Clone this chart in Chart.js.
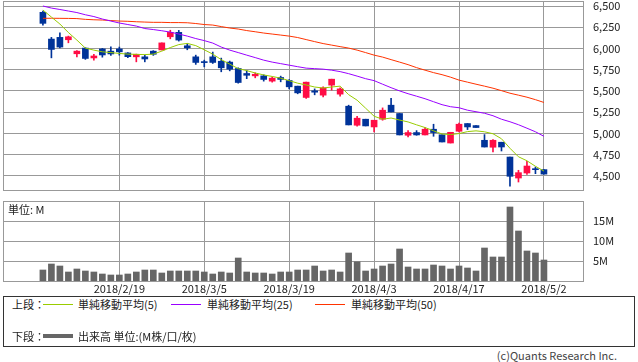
<!DOCTYPE html>
<html>
<head>
<meta charset="utf-8">
<script src="https://cdn.jsdelivr.net/npm/chart.js@4.4.1/dist/chart.umd.min.js"></script>
<style>
body { margin: 0; background: #fff; font-family: "Noto Sans CJK JP", "Noto Sans", sans-serif; color: #222; }
#wrap { position: relative; width: 638px; height: 362px; overflow: hidden; }
canvas { position: absolute; left: 0; }
#cPrice { top: 0; }
#cVol { top: 195px; }
.lbl { position: absolute; font-size: 11px; line-height: 13px; white-space: nowrap; }
.sw { position: absolute; width: 30px; height: 1px; }
#legendBox { position: absolute; left: 3px; top: 296px; width: 630px; height: 49px; border: 1px solid #333; }
</style>
</head>
<body>
<div id="wrap">
	<canvas id="cPrice" width="638" height="191"></canvas>
	<canvas id="cVol" width="638" height="100"></canvas>
	<div class="lbl" style="left:8px; top:203px;">単位: M</div>
	<!-- Begin legend -->
	<div id="legendBox"></div>
	<div class="lbl" style="left:12px; top:298px;">上段：</div>
	<div class="sw" style="left:43px; top:304px; background:#99cc00;"></div>
	<div class="lbl" style="left:78px; top:298px;">単純移動平均(5)</div>
	<div class="sw" style="left:171px; top:304px; background:#9900ff;"></div>
	<div class="lbl" style="left:207px; top:298px;">単純移動平均(25)</div>
	<div class="sw" style="left:315px; top:304px; background:#ff3300;"></div>
	<div class="lbl" style="left:351px; top:298px;">単純移動平均(50)</div>
	<div class="lbl" style="left:12px; top:330px;">下段：</div>
	<div class="sw" style="left:43px; top:334px; height:4px; background:#666;"></div>
	<div class="lbl" style="left:78px; top:330px;">出来高 単位:(M株/口/枚)</div>
	<!-- End legend -->
	<div class="lbl" style="right:21px; top:349px; color:#444;">(c)Quants Research Inc.</div>
</div>
<script>
// trading days shown on the chart
var dates = [
	'2018/2/5', '2018/2/6', '2018/2/7', '2018/2/8', '2018/2/9', '2018/2/13', '2018/2/14', '2018/2/15', '2018/2/16',
	'2018/2/19', '2018/2/20', '2018/2/21', '2018/2/22', '2018/2/23', '2018/2/26', '2018/2/27', '2018/2/28', '2018/3/1', '2018/3/2',
	'2018/3/5', '2018/3/6', '2018/3/7', '2018/3/8', '2018/3/9', '2018/3/12', '2018/3/13', '2018/3/14', '2018/3/15', '2018/3/16',
	'2018/3/19', '2018/3/20', '2018/3/22', '2018/3/23', '2018/3/26', '2018/3/27', '2018/3/28', '2018/3/29', '2018/3/30', '2018/4/2',
	'2018/4/3', '2018/4/4', '2018/4/5', '2018/4/6', '2018/4/9', '2018/4/10', '2018/4/11', '2018/4/12', '2018/4/13', '2018/4/16',
	'2018/4/17', '2018/4/18', '2018/4/19', '2018/4/20', '2018/4/23', '2018/4/24', '2018/4/25', '2018/4/26', '2018/4/27', '2018/5/1',
	'2018/5/2'
];
var opens = [
	6426, 6111, 6131, 6103, 5938, 6005, 5889, 5995, 5969, 5995,
	5948, 5902, 5902, 5969, 5983, 6138, 6190, 6032, 5902, 5839,
	5902, 5850, 5840, 5765, 5706, 5678, 5678, 5616, 5659, 5624,
	5557, 5424, 5502, 5451, 5569, 5463, 5321, 5097, 5168, 5077,
	5168, 5333, 5235, 4979, 5011, 4983, 5050, 4985, 4888, 5026,
	5117, 5093, 4920, 4838, 4897, 4723, 4476, 4535, 4586, 4575
];
var highs = [
	6440, 6131, 6184, 6146, 5975, 6009, 5931, 6001, 6019, 6017,
	5952, 5934, 5922, 5975, 6066, 6215, 6213, 6056, 5922, 5863,
	5958, 5887, 5852, 5773, 5739, 5714, 5690, 5663, 5675, 5635,
	5557, 5604, 5525, 5549, 5639, 5537, 5333, 5203, 5168, 5156,
	5301, 5415, 5235, 5034, 5034, 5070, 5109, 4985, 5014, 5122,
	5117, 5093, 4987, 4928, 4897, 4723, 4567, 4673, 4605, 4575
];
var lows = [
	6275, 5890, 6008, 6067, 5902, 5872, 5863, 5898, 5919, 5922,
	5891, 5843, 5843, 5919, 5983, 6114, 6087, 5985, 5813, 5784,
	5824, 5726, 5737, 5592, 5645, 5655, 5616, 5604, 5608, 5525,
	5467, 5412, 5455, 5431, 5510, 5439, 5101, 5085, 5089, 5018,
	5156, 5254, 4983, 4959, 4979, 4983, 4967, 4900, 4888, 5018,
	5046, 5070, 4841, 4782, 4794, 4380, 4429, 4519, 4527, 4522
];
var closes = [
	6296, 5989, 6017, 6138, 5969, 5883, 5912, 5924, 5936, 5961,
	5904, 5932, 5877, 5932, 6066, 6190, 6099, 6008, 5836, 5834,
	5836, 5773, 5757, 5600, 5685, 5697, 5636, 5651, 5636, 5549,
	5478, 5604, 5486, 5537, 5639, 5525, 5101, 5180, 5089, 5156,
	5274, 5254, 4983, 5011, 4983, 5050, 5011, 4900, 5014, 5109,
	5077, 5070, 4841, 4920, 4841, 4496, 4539, 4617, 4574, 4522
];
var ma5 = [
	6453, 6370, 6288, 6188, 6099, 6005, 5981, 5961, 5952, 5942,
	5934, 5931, 5928, 5934, 5969, 6011, 6046, 6060, 6034, 5985,
	5934, 5869, 5816, 5763, 5740, 5712, 5689, 5671, 5651, 5622,
	5592, 5571, 5547, 5535, 5547, 5557, 5457, 5392, 5298, 5203,
	5168, 5182, 5158, 5136, 5102, 5070, 5032, 4994, 4987, 4999,
	5022, 5031, 5020, 4997, 4938, 4826, 4726, 4679, 4614, 4558
];
var ma25 = [
	6500, 6476, 6459, 6441, 6423, 6397, 6376, 6347, 6323, 6300,
	6282, 6264, 6235, 6223, 6209, 6193, 6170, 6146, 6117, 6093,
	6064, 6017, 5981, 5952, 5922, 5893, 5863, 5840, 5822, 5804,
	5786, 5769, 5763, 5757, 5745, 5728, 5704, 5675, 5645, 5622,
	5580, 5539, 5501, 5468, 5439, 5409, 5374, 5339, 5315, 5303,
	5274, 5256, 5238, 5209, 5168, 5138, 5103, 5062, 5020, 4967
];
var ma50 = [
	6355, 6356, 6355, 6354, 6352, 6343, 6338, 6335, 6329, 6323,
	6320, 6315, 6311, 6308, 6308, 6305, 6305, 6303, 6294, 6282,
	6276, 6258, 6241, 6229, 6211, 6197, 6182, 6170, 6158, 6146,
	6129, 6105, 6081, 6058, 6040, 6022, 6005, 5981, 5952, 5922,
	5899, 5869, 5840, 5810, 5775, 5745, 5716, 5692, 5663, 5628,
	5604, 5580, 5557, 5533, 5504, 5474, 5451, 5427, 5398, 5365
];
// volume in millions
var volumes = [
	2.75, 4.25, 3.75, 2.25, 3.0, 2.5, 2.25, 1.75, 1.5, 1.5,
	1.75, 2.25, 2.75, 2.75, 2.0, 2.5, 2.5, 2.5, 2.5, 2.25,
	1.75, 2.25, 2.0, 5.75, 2.25, 2.0, 2.0, 1.75, 2.25, 2.25,
	2.75, 2.75, 3.75, 2.5, 2.75, 2.25, 7.0, 4.8, 2.5, 3.0,
	3.75, 4.25, 8.0, 3.5, 3.0, 3.0, 4.0, 3.75, 3.0, 3.75,
	3.25, 2.5, 8.25, 6.0, 6.0, 18.5, 12.5, 7.5, 7.0, 5.25
];
var tickLabels = ['2018/2/19', '2018/3/5', '2018/3/19', '2018/4/3', '2018/4/17', '2018/5/2'];
var priceTicks = [4500, 4750, 5000, 5250, 5500, 5750, 6000, 6250, 6500];
var volTicks = [5, 10, 15];

var UP = '#ff0d45', DOWN = '#003399', GRID = '#999999';
var FONT = { family: '"Noto Sans CJK JP", "Noto Sans", sans-serif', size: 11 };

var tickIdx = tickLabels.map(function (t) { return dates.indexOf(t); });
var candleColors = opens.map(function (o, i) { return closes[i] >= o ? UP : DOWN; });

// draws the grey frame round the plot area
var framePlugin = {
	id: 'frame',
	afterDraw: function (chart) {
		var a = chart.chartArea, ctx = chart.ctx;
		ctx.save();
		ctx.strokeStyle = GRID;
		ctx.lineWidth = 1;
		ctx.strokeRect(Math.round(a.left) + 0.5, Math.round(a.top) + 0.5, Math.round(a.right - a.left), Math.round(a.bottom - a.top));
		ctx.restore();
	}
};

function xAxis(showLabels) {
	return {
		type: 'linear', min: -4.7, max: 63.6, offset: false,
		grid: { color: GRID, drawTicks: false, offset: false },
		border: { display: false },
		afterBuildTicks: function (s) { s.ticks = tickIdx.map(function (v) { return { value: v }; }); },
		afterFit: function (s) { s.height = showLabels ? 14 : 0; s.paddingLeft = 0; s.paddingRight = 0; },
		ticks: {
			display: showLabels, autoSkip: false, maxRotation: 0, minRotation: 0, padding: 1,
			color: '#222', font: FONT,
			callback: function (v) { return dates[v]; }
		}
	};
}

function yAxis(min, max, ticks, fmt) {
	return {
		position: 'right', min: min, max: max,
		grid: { color: GRID, drawTicks: false },
		border: { display: false },
		afterBuildTicks: function (s) { s.ticks = ticks.map(function (v) { return { value: v }; }); },
		afterFit: function (s) { s.width = 55; s.paddingTop = 0; s.paddingBottom = 0; },
		ticks: { padding: 10, color: '#222', font: FONT, callback: fmt }
	};
}

function pts(arr) {
	return arr.map(function (v, i) { return { x: i, y: v }; });
}

function drawCharts() {
	Chart.defaults.animation = false;

	// Upper panel: candles + moving averages
	new Chart(document.getElementById('cPrice'), {
		type: 'bar',
		data: {
			datasets: [
				{ type: 'line', data: pts(ma5), borderColor: '#99cc00', borderWidth: 1, pointRadius: 0, order: 0 },
				{ type: 'line', data: pts(ma25), borderColor: '#9900ff', borderWidth: 1, pointRadius: 0, order: 0 },
				{ type: 'line', data: pts(ma50), borderColor: '#ff3300', borderWidth: 1, pointRadius: 0, order: 0 },
				{
					data: opens.map(function (o, i) { return { x: i, y: [o, closes[i]] }; }),
					backgroundColor: candleColors, barThickness: 6, grouped: false, minBarLength: 1, order: 1
				},
				{
					data: lows.map(function (l, i) { return { x: i, y: [l, highs[i]] }; }),
					backgroundColor: candleColors, barThickness: 1, grouped: false, order: 2
				}
			]
		},
		options: {
			responsive: false,
			devicePixelRatio: 1,
			layout: { padding: { left: 3, top: 1, right: 0, bottom: 1 } },
			plugins: { legend: { display: false }, tooltip: { enabled: false } },
			scales: {
				x: xAxis(false),
				y: yAxis(4335, 6559, priceTicks, function (v) { return v.toLocaleString('en-US'); })
			}
		},
		plugins: [framePlugin]
	});

	// Lower panel: volume
	new Chart(document.getElementById('cVol'), {
		type: 'bar',
		data: {
			datasets: [
				{ data: pts(volumes), backgroundColor: '#666666', barThickness: 6, grouped: false }
			]
		},
		options: {
			responsive: false,
			devicePixelRatio: 1,
			layout: { padding: { left: 3, top: 6, right: 0, bottom: 0 } },
			plugins: { legend: { display: false }, tooltip: { enabled: false } },
			scales: {
				x: xAxis(true),
				y: yAxis(0, 20, volTicks, function (v) { return v + 'M'; })
			}
		},
		plugins: [framePlugin]
	});
}

drawCharts();
</script>
</body>
</html>
